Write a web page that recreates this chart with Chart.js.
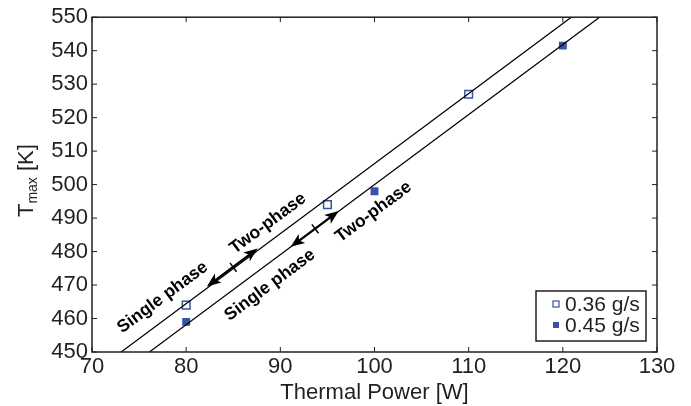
<!DOCTYPE html>
<html>
<head>
<meta charset="utf-8">
<script src="https://cdn.jsdelivr.net/npm/chart.js@4"></script>
<style>
  html, body { margin: 0; padding: 0; background: #fff; }
  #wrap { width: 691px; height: 406px; }
</style>
</head>
<body>
<div id="wrap"><canvas id="chart" width="691" height="406"></canvas></div>
<script>
// Measured points
const powerLow = [80, 95, 110];        // 0.36 g/s
const tmaxLow = [464, 494, 527];
const powerHigh = [80, 100, 120];      // 0.45 g/s
const tmaxHigh = [459, 498, 541.5];

// Phase boundary lines (end points in data units)
const boundaryLowX = [73.1, 120.9];
const boundaryLowY = [450, 550];
const boundaryHighX = [76.1, 123.9];
const boundaryHighY = [450, 550];

// Double arrows: start, end, middle mark (data units)
const arrowFromX = [82.2, 91.1];
const arrowFromY = [469.6, 481.4];
const arrowToX = [87.6, 96.2];
const arrowToY = [480.9, 492.1];
const arrowMarkX = [85.0, 93.7];
const arrowMarkY = [475.3, 486.8];

// Region labels
const labelText = ["Single phase", "Two-phase", "Single phase", "Two-phase"];
const labelX = [77.5, 88.7, 88.9, 99.9];
const labelY = [466.3, 488.4, 470.0, 491.8];

const seriesNames = ["0.36 g/s", "0.45 g/s"];
const blue = "#3953a4";
const ink = "#231f20";
const family = "'Liberation Sans', Arial, sans-serif";

function pts(xs, ys) {
  return xs.map((x, i) => ({ x: x, y: ys[i] }));
}

// **Axes box, inward ticks, arrows, labels, legend**
const decorations = {
  id: "decorations",
  afterDatasetsDraw(chart) {
    const ctx = chart.ctx;
    const xs = chart.scales.x;
    const ys = chart.scales.y;
    const a = chart.chartArea;

    ctx.save();
    // box
    ctx.strokeStyle = ink;
    ctx.lineWidth = 1.5;
    ctx.strokeRect(a.left, a.top, a.right - a.left, a.bottom - a.top);

    // inward ticks
    ctx.lineWidth = 1;
    ctx.beginPath();
    xs.ticks.forEach((t) => {
      const px = xs.getPixelForValue(t.value);
      ctx.moveTo(px, a.bottom);
      ctx.lineTo(px, a.bottom - 5);
      ctx.moveTo(px, a.top);
      ctx.lineTo(px, a.top + 5);
    });
    ys.ticks.forEach((t) => {
      const py = ys.getPixelForValue(t.value);
      ctx.moveTo(a.left, py);
      ctx.lineTo(a.left + 5, py);
      ctx.moveTo(a.right, py);
      ctx.lineTo(a.right - 5, py);
    });
    ctx.stroke();

    // clip to plot area for in-plot drawings
    ctx.save();
    ctx.beginPath();
    ctx.rect(a.left, a.top, a.right - a.left, a.bottom - a.top);
    ctx.clip();

    // double arrows
    ctx.strokeStyle = "#000";
    ctx.fillStyle = "#000";
    for (let i = 0; i < arrowFromX.length; i++) {
      const x1 = xs.getPixelForValue(arrowFromX[i]);
      const y1 = ys.getPixelForValue(arrowFromY[i]);
      const x2 = xs.getPixelForValue(arrowToX[i]);
      const y2 = ys.getPixelForValue(arrowToY[i]);
      const mx = xs.getPixelForValue(arrowMarkX[i]);
      const my = ys.getPixelForValue(arrowMarkY[i]);
      const ang = Math.atan2(y2 - y1, x2 - x1);
      const ux = Math.cos(ang), uy = Math.sin(ang);
      const head = 14, half = 5.5;
      ctx.lineWidth = 2.2;
      ctx.beginPath();
      ctx.moveTo(x1 + ux * head * 0.7, y1 + uy * head * 0.7);
      ctx.lineTo(x2 - ux * head * 0.7, y2 - uy * head * 0.7);
      ctx.stroke();
      [[x2, y2, 1], [x1, y1, -1]].forEach(([hx, hy, d]) => {
        const bx = hx - d * ux * head, by = hy - d * uy * head;
        ctx.beginPath();
        ctx.moveTo(hx, hy);
        ctx.lineTo(bx - uy * half, by + ux * half);
        ctx.lineTo(hx - d * ux * head * 0.75, hy - d * uy * head * 0.75);
        ctx.lineTo(bx + uy * half, by - ux * half);
        ctx.closePath();
        ctx.fill();
      });
      // middle mark
      ctx.lineWidth = 1.5;
      ctx.beginPath();
      ctx.moveTo(mx - uy * 5.5, my + ux * 5.5);
      ctx.lineTo(mx + uy * 5.5, my - ux * 5.5);
      ctx.stroke();
    }

    // rotated labels, parallel to the boundary lines
    const lx1 = xs.getPixelForValue(boundaryLowX[0]);
    const ly1 = ys.getPixelForValue(boundaryLowY[0]);
    const lx2 = xs.getPixelForValue(boundaryLowX[1]);
    const ly2 = ys.getPixelForValue(boundaryLowY[1]);
    const rot = Math.atan2(ly2 - ly1, lx2 - lx1);
    ctx.font = "bold 17.5px " + family;
    ctx.textAlign = "center";
    ctx.textBaseline = "middle";
    ctx.fillStyle = "#000";
    labelText.forEach((txt, i) => {
      ctx.save();
      ctx.translate(xs.getPixelForValue(labelX[i]), ys.getPixelForValue(labelY[i]));
      ctx.rotate(rot);
      ctx.fillText(txt, 0, 0);
      ctx.restore();
    });
    ctx.restore();

    // legend
    const lgL = 536, lgT = 291, lgW = 110, lgH = 50;
    ctx.fillStyle = "#fff";
    ctx.fillRect(lgL, lgT, lgW, lgH);
    ctx.strokeStyle = ink;
    ctx.lineWidth = 1.5;
    ctx.strokeRect(lgL, lgT, lgW, lgH);
    ctx.font = "21px " + family;
    ctx.textAlign = "left";
    ctx.textBaseline = "middle";
    seriesNames.forEach((name, i) => {
      const cy = lgT + 13 + i * 21;
      if (i === 0) {
        ctx.fillStyle = "#fff";
        ctx.fillRect(553, cy - 3, 6, 6);
        ctx.strokeStyle = blue;
        ctx.lineWidth = 1.2;
        ctx.strokeRect(553, cy - 3, 6, 6);
      } else {
        ctx.fillStyle = blue;
        ctx.fillRect(553, cy - 3, 6, 6);
      }
      ctx.fillStyle = ink;
      ctx.fillText(name, 565, cy + 1);
    });

    // y title with subscript
    ctx.save();
    ctx.translate(25, (a.top + a.bottom) / 2 - 4);
    ctx.rotate(-Math.PI / 2);
    ctx.fillStyle = ink;
    ctx.textBaseline = "alphabetic";
    ctx.textAlign = "left";
    const big = "22px " + family;
    const small = "14px " + family;
    ctx.font = big;
    const wT = ctx.measureText("T").width;
    const wK = ctx.measureText(" [K]").width;
    ctx.font = small;
    const wM = ctx.measureText("max").width;
    let x0 = -(wT + wM + wK) / 2;
    ctx.font = big;
    ctx.fillText("T", x0, 8);
    ctx.font = small;
    ctx.fillText("max", x0 + wT, 12);
    ctx.font = big;
    ctx.fillText(" [K]", x0 + wT + wM, 8);
    ctx.restore();

    ctx.restore();
  },
};

new Chart(document.getElementById("chart"), {
  type: "scatter",
  data: {
    datasets: [
      {
        label: "boundary 0.36",
        data: pts(boundaryLowX, boundaryLowY),
        showLine: true,
        borderColor: "#000",
        borderWidth: 1.2,
        pointRadius: 0,
      },
      {
        label: "boundary 0.45",
        data: pts(boundaryHighX, boundaryHighY),
        showLine: true,
        borderColor: "#000",
        borderWidth: 1.2,
        pointRadius: 0,
      },
      {
        label: seriesNames[0],
        data: pts(powerLow, tmaxLow),
        pointStyle: "rect",
        pointRadius: 5.4,
        borderWidth: 1.5,
        borderColor: blue,
        backgroundColor: "#fff",
      },
      {
        label: seriesNames[1],
        data: pts(powerHigh, tmaxHigh),
        pointStyle: "rect",
        pointRadius: 5.6,
        borderWidth: 0,
        borderColor: blue,
        backgroundColor: blue,
      },
    ],
  },
  options: {
    responsive: false,
    animation: false,
    layout: { padding: { top: 17, right: 34, left: 0, bottom: 0 } },
    plugins: { legend: { display: false }, tooltip: { enabled: false } },
    scales: {
      x: {
        type: "linear",
        min: 70,
        max: 130,
        grid: { display: false, drawTicks: false },
        border: { display: false },
        ticks: {
          stepSize: 10,
          color: ink,
          padding: 2,
          font: { size: 22, family: family },
        },
        title: {
          display: true,
          text: "Thermal Power [W]",
          color: ink,
          padding: { top: 0, bottom: 0 },
          font: { size: 22, family: family },
        },
        afterFit: (s) => { s.height = 54; },
      },
      y: {
        type: "linear",
        min: 450,
        max: 550,
        grid: { display: false, drawTicks: false },
        border: { display: false },
        ticks: {
          stepSize: 10,
          color: ink,
          padding: 4,
          font: { size: 22, family: family },
        },
        afterFit: (s) => { s.width = 92; },
      },
    },
  },
  plugins: [decorations],
});
</script>
</body>
</html>
